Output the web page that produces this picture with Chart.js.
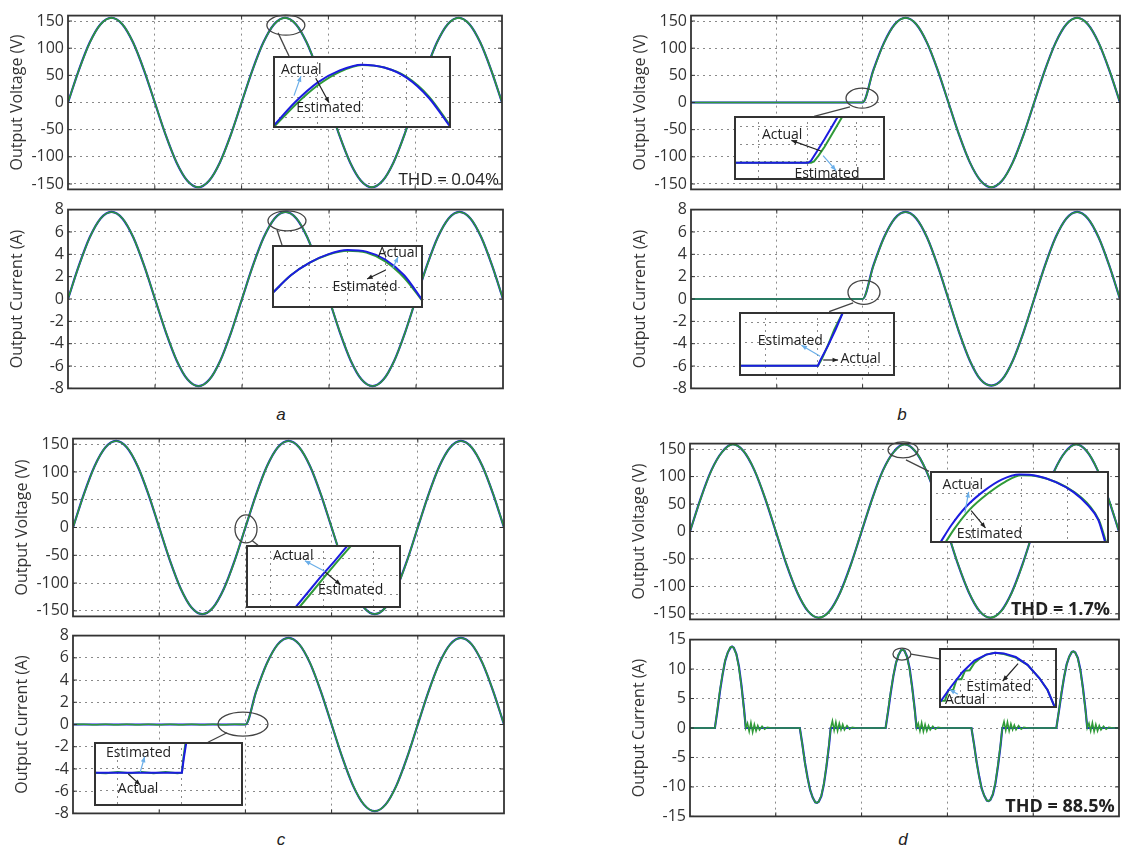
<!DOCTYPE html>
<html>
<head>
<meta charset="utf-8">
<script src="https://cdn.jsdelivr.net/npm/chart.js@4.4.0/dist/chart.umd.min.js"></script>
<style>
body { margin: 0; background: #fff; }
#fig { position: relative; width: 1122px; height: 849px; overflow: hidden; background: #fff; }
#fig canvas { position: absolute; }
.lbl { position: absolute; width: 40px; margin-left: -20px; text-align: center; font: italic 17px "Liberation Sans", Arial, sans-serif; line-height: 20px; color: #222; }
</style>
</head>
<body>
<div id="fig">
  <div class="lbl" style="left:281px;top:405px">a</div>
  <div class="lbl" style="left:902px;top:405px">b</div>
  <div class="lbl" style="left:281px;top:830px">c</div>
  <div class="lbl" style="left:903px;top:830px">d</div>
</div>
<script>
// time axis of the main plots, ms
var timeMs = [0, 1.25, 2.5, 3.75, 5, 6.25, 7.5, 8.75, 10, 11.25, 12.5, 13.75, 15, 16.25, 17.5, 18.75, 20,
  21.25, 22.5, 23.75, 25, 26.25, 27.5, 28.75, 30, 31.25, 32.5, 33.75, 35, 36.25, 37.5, 38.75, 40,
  41.25, 42.5, 43.75, 45, 46.25, 47.5, 48.75, 50];

var voltTicks = [-150, -100, -50, 0, 50, 100, 150];
var currTicks = [-8, -6, -4, -2, 0, 2, 4, 6, 8];
var currTicksD = [-15, -10, -5, 0, 5, 10, 15];

// a
var aVoltActual = [0, 59.7, 110.3, 144.1, 156, 144.1, 110.3, 59.7, 0, -59.7, -110.3, -144.1, -156, -144.1, -110.3, -59.7,
  0, 59.7, 110.3, 144.1, 156, 144.1, 110.3, 59.7, 0, -59.7, -110.3, -144.1, -156, -144.1, -110.3, -59.7,
  0, 59.7, 110.3, 144.1, 156, 144.1, 110.3, 59.7, 0];
var aVoltEstimated = [0, 59.2, 109.9, 143.8, 155.8, 144.3, 110.7, 60.2, 0.4, -59.3, -110.0, -143.9, -155.8, -144.2, -110.6, -60.1,
  0.3, 59.3, 110.0, 143.9, 155.8, 144.2, 110.6, 60.1, 0.3, -59.3, -110.0, -143.9, -155.8, -144.2, -110.6, -60.1,
  0.3, 59.3, 110.0, 143.9, 155.8, 144.2, 110.6, 60.1, 0.2];
var aCurrActual = [0, 2.98, 5.52, 7.21, 7.8, 7.21, 5.52, 2.98, 0, -2.98, -5.52, -7.21, -7.8, -7.21, -5.52, -2.98,
  0, 2.98, 5.52, 7.21, 7.8, 7.21, 5.52, 2.98, 0, -2.98, -5.52, -7.21, -7.8, -7.21, -5.52, -2.98,
  0, 2.98, 5.52, 7.21, 7.8, 7.21, 5.52, 2.98, 0];
var aCurrEstimated = [0, 2.96, 5.50, 7.20, 7.79, 7.22, 5.54, 3.00, 0.02, -2.96, -5.50, -7.20, -7.79, -7.22, -5.54, -3.00,
  0.02, 2.96, 5.50, 7.20, 7.79, 7.22, 5.54, 3.00, 0.02, -2.96, -5.50, -7.20, -7.79, -7.22, -5.54, -3.00,
  0.02, 2.96, 5.50, 7.20, 7.79, 7.22, 5.54, 3.00, 0.01];

// b
var bVoltActual = [0, 0, 0, 0, 0, 0, 0, 0, 0, 0, 0, 0, 0, 0, 0, 0, 0,
  59.7, 110.3, 144.1, 156, 144.1, 110.3, 59.7, 0, -59.7, -110.3, -144.1, -156, -144.1, -110.3, -59.7,
  0, 59.7, 110.3, 144.1, 156, 144.1, 110.3, 59.7, 0];
var bVoltEstimated = [0, 0, 0, 0, 0, 0, 0, 0, 0, 0, 0, 0, 0, 0, 0, 0, 0,
  58.6, 109.6, 143.8, 155.8, 144.3, 110.7, 60.2, 0.3, -59.3, -110.0, -143.9, -155.8, -144.2, -110.6, -60.1,
  0.3, 59.3, 110.0, 143.9, 155.8, 144.2, 110.6, 60.1, 0.2];
var bCurrActual = [0, 0, 0, 0, 0, 0, 0, 0, 0, 0, 0, 0, 0, 0, 0, 0, 0,
  2.98, 5.52, 7.21, 7.8, 7.21, 5.52, 2.98, 0, -2.98, -5.52, -7.21, -7.75, -7.21, -5.52, -2.98,
  0, 2.98, 5.52, 7.21, 7.8, 7.21, 5.52, 2.98, 0];
var bCurrEstimated = [0, 0, 0, 0, 0, 0, 0, 0, 0, 0, 0, 0, 0, 0, 0, 0, 0,
  2.94, 5.49, 7.20, 7.79, 7.22, 5.54, 3.00, 0.02, -2.96, -5.50, -7.20, -7.74, -7.22, -5.54, -3.00,
  0.02, 2.96, 5.50, 7.20, 7.79, 7.22, 5.54, 3.00, 0.01];

// c
var cVoltActual = [0, 59.7, 110.3, 144.1, 156, 144.1, 110.3, 59.7, 0, -59.7, -110.3, -144.1, -156, -144.1, -110.3, -59.7,
  0, 59.7, 110.3, 144.1, 156, 144.1, 110.3, 59.7, 0, -59.7, -110.3, -144.1, -156, -144.1, -110.3, -59.7,
  0, 59.7, 110.3, 144.1, 156, 144.1, 110.3, 59.7, 0];
var cVoltEstimated = [0, 59.0, 109.8, 143.8, 155.8, 144.3, 110.8, 60.3, 0.5, -59.2, -109.9, -143.9, -155.8, -144.2, -110.7, -60.2,
  0.5, 59.1, 109.9, 143.9, 155.8, 144.2, 110.7, 60.2, 0.4, -59.2, -109.9, -143.9, -155.8, -144.2, -110.7, -60.2,
  0.3, 59.2, 110.0, 143.9, 155.8, 144.2, 110.6, 60.1, 0.2];
var cCurrActual = [0, 0, 0, 0, 0, 0, 0, 0, 0, 0, 0, 0, 0, 0, 0, 0, 0,
  2.98, 5.52, 7.21, 7.8, 7.21, 5.52, 2.98, 0, -2.98, -5.52, -7.21, -7.8, -7.21, -5.52, -2.98,
  0, 2.98, 5.52, 7.21, 7.8, 7.21, 5.52, 2.98, 0];
var cCurrEstimated = [0, 0.02, -0.02, 0.02, -0.02, 0.02, -0.02, 0.02, -0.02, 0.02, -0.02, 0.02, -0.02, 0.02, -0.02, 0.02, 0,
  2.95, 5.50, 7.20, 7.79, 7.22, 5.54, 3.00, 0.02, -2.96, -5.50, -7.20, -7.79, -7.22, -5.54, -3.00,
  0.02, 2.96, 5.50, 7.20, 7.79, 7.22, 5.54, 3.00, 0.01];

// d
var dVoltActual = [0, 60.5, 111.7, 145, 159, 146, 111.7, 60.5, 0, -60.5, -111, -145, -157, -145, -111, -60,
  0, 60.5, 111.7, 145, 159, 146, 111.7, 60.5, 0, -60.5, -111, -145, -157, -145, -111, -60,
  0, 60.5, 111.7, 145, 159, 146, 111.7, 60.5, 0];
var dVoltEstimated = [0, 59.8, 111, 144.5, 158.5, 146.3, 112.3, 61.2, 0.8, -59.8, -110.4, -144.6, -156.8, -145.4, -111.6, -60.8,
  0.7, 59.8, 111, 144.5, 158.4, 146.3, 112.3, 61.2, 0.8, -59.8, -110.4, -144.6, -156.8, -145.4, -111.6, -60.8,
  0.7, 59.8, 111, 144.5, 158.4, 146.3, 112.3, 61.2, 0.5];
var dCurrTime = [0, 2.9, 3.2, 3.5, 3.8, 4.1, 4.4, 4.7, 4.9, 5.1, 5.4, 5.7, 6.0, 6.3, 6.5,
  6.7, 6.9, 7.1, 7.3, 7.5, 7.7, 7.9, 8.1, 8.4, 8.7, 9.0, 9.5,
  12.8, 13.1, 13.4, 13.7, 14.0, 14.3, 14.6, 14.8, 15.0, 15.3, 15.6, 15.9, 16.2, 16.4,
  16.6, 16.8, 17.0, 17.2, 17.4, 17.6, 17.8, 18.0, 18.3, 18.6, 18.9, 19.4,
  22.8, 23.1, 23.4, 23.7, 24.0, 24.3, 24.6, 24.8, 25.0, 25.3, 25.6, 25.9, 26.2, 26.4,
  26.6, 26.8, 27.0, 27.2, 27.4, 27.6, 27.8, 28.0, 28.3, 28.6, 28.9, 29.4,
  32.8, 33.1, 33.4, 33.7, 34.0, 34.3, 34.6, 34.8, 35.0, 35.3, 35.6, 35.9, 36.2, 36.4,
  36.6, 36.8, 37.0, 37.2, 37.4, 37.6, 37.8, 38.0, 38.3, 38.6, 38.9, 39.4,
  42.7, 43.0, 43.3, 43.6, 43.9, 44.2, 44.5, 44.7, 44.9, 45.2, 45.5, 45.8, 46.1, 46.3,
  46.5, 46.7, 46.9, 47.1, 47.3, 47.5, 47.7, 47.9, 48.2, 48.5, 48.8, 49.3, 50];
var dCurrActual = [0, 0, 3.0, 6.3, 9.1, 11.4, 12.8, 13.6, 13.8, 13.6, 12.6, 10.5, 7.2, 3.2, 0,
  0, 0, 0, 0, 0, 0, 0, 0, 0, 0, 0, 0,
  0, -2.8, -5.9, -8.4, -10.5, -11.8, -12.6, -12.7, -12.5, -11.6, -9.6, -6.6, -3.0, 0,
  0, 0, 0, 0, 0, 0, 0, 0, 0, 0, 0, 0,
  0, 2.9, 6.0, 8.8, 11.0, 12.4, 13.2, 13.3, 13.1, 12.1, 10.1, 6.9, 3.1, 0,
  0, 0, 0, 0, 0, 0, 0, 0, 0, 0, 0, 0,
  0, -2.7, -5.7, -8.2, -10.3, -11.5, -12.3, -12.4, -12.2, -11.3, -9.4, -6.4, -2.9, 0,
  0, 0, 0, 0, 0, 0, 0, 0, 0, 0, 0, 0,
  0, 2.9, 5.9, 8.6, 10.8, 12.1, 12.9, 13.0, 12.8, 11.9, 9.9, 6.8, 3.1, 0,
  0, 0, 0, 0, 0, 0, 0, 0, 0, 0, 0, 0, 0];
var dCurrEstimated = [0, 0, 3.2, 6.5, 9.2, 11.5, 12.8, 13.7, 13.8, 13.6, 12.5, 10.3, 7.0, 3.0, 0,
  0.8, -0.6, 0.9, -0.7, 0.6, -0.5, 0.4, -0.3, 0.3, -0.2, 0.1, 0,
  0, -2.9, -6.0, -8.5, -10.5, -11.8, -12.6, -12.7, -12.5, -11.5, -9.5, -6.4, -2.8, 0,
  1.2, -0.4, 1.0, -0.5, 0.8, -0.3, 0.6, -0.3, 0.4, -0.2, 0.1, 0,
  0, 3.1, 6.2, 8.9, 11.0, 12.4, 13.2, 13.3, 13.1, 12.0, 9.9, 6.7, 2.9, 0,
  0.8, -0.5, 0.9, -0.6, 0.6, -0.5, 0.4, -0.3, 0.3, -0.2, 0.1, 0,
  0, -2.8, -5.8, -8.3, -10.3, -11.5, -12.3, -12.4, -12.2, -11.2, -9.2, -6.2, -2.7, 0,
  1.1, -0.4, 1.0, -0.5, 0.7, -0.3, 0.5, -0.3, 0.4, -0.2, 0.1, 0,
  0, 3.0, 6.1, 8.7, 10.8, 12.1, 12.9, 13.0, 12.8, 11.8, 9.7, 6.6, 2.9, 0,
  0.8, -0.5, 0.9, -0.6, 0.6, -0.5, 0.4, -0.3, 0.3, -0.2, 0.1, 0, 0];

// zoomed views (percent of the inset box)
var aVoltZoomX = [0, 12.5, 25, 37.5, 50, 62.5, 75, 87.5, 100];
var aVoltZoomActual = [2, 36, 63, 80, 88, 84, 70, 42, 0];
var aVoltZoomEstimated = [0, 32, 59, 78, 87.5, 84, 71, 44, 2];
var aCurrZoomX = [0, 12.5, 25, 37.5, 50, 62.5, 75, 87.5, 100];
var aCurrZoomActual = [23, 52, 72, 85.5, 92, 89.5, 77, 52, 11];
var aCurrZoomEstimated = [23, 52, 72, 85, 91, 88, 74, 48, 10];
var bVoltZoomActX = [0, 49, 51, 55, 60, 65, 69];
var bVoltZoomActual = [27, 27, 30, 45, 64, 84, 100];
var bVoltZoomEstX = [0, 51, 53, 56, 60, 64, 68, 72];
var bVoltZoomEstimated = [27, 27, 29, 38, 52, 68, 84, 100];
var bCurrZoomActX = [0, 50.6, 52, 57, 62, 66.7];
var bCurrZoomActual = [16, 16, 24, 47, 73, 100];
var bCurrZoomEstX = [0, 50.6, 53, 57, 61, 66.7];
var bCurrZoomEstimated = [16, 16, 26, 48, 72, 100];
var cVoltZoomActX = [31.6, 40, 48, 57, 65.8];
var cVoltZoomActual = [0, 25, 49, 74, 100];
var cVoltZoomEstX = [34, 42.5, 50.5, 59, 68.2];
var cVoltZoomEstimated = [0, 25, 49, 74, 100];
var cCurrZoomActX = [0, 59, 60.3, 62];
var cCurrZoomActual = [52, 52, 75, 100];
var cCurrZoomEstX = [0, 8, 16, 24, 32, 40, 48, 56, 59, 60, 61.5];
var cCurrZoomEstimated = [52, 51, 53, 51, 53, 51, 53, 51, 52, 75, 100];
var dVoltZoomActX = [5.6, 12, 20, 30, 40, 50, 60, 70, 80, 88, 94, 98];
var dVoltZoomActual = [0, 25, 50, 72, 88, 95, 93, 85, 71, 53, 32, 0];
var dVoltZoomEstX = [8.4, 14, 22, 32, 42, 51, 61, 71, 81, 89, 94.5, 98.5];
var dVoltZoomEstimated = [0, 21, 46, 68, 85, 94, 92, 84, 70, 52, 31, 0];
var dCurrZoomActX = [1, 10, 20, 30, 40, 47.5, 55, 65, 75, 85, 92, 98];
var dCurrZoomActual = [10, 35, 60, 79, 89, 92, 91, 85, 72, 50, 30, 2];
var dCurrZoomEstX = [1, 5, 8, 12, 15, 19, 22, 26, 30, 35, 40, 47.5, 55, 65, 75, 85, 92, 98];
var dCurrZoomEstimated = [12, 12, 30, 30, 48, 48, 62, 63, 75, 83, 89, 92, 90, 84, 72, 50, 30, 2];

var BLUE = '#1c1ce0', GREEN = '#2f9a38', GRID = '#8a8a8a', FRAME = '#333', LBLUE = '#6aaee8', DARK = '#222';
var FONT = '"Open Sans", "Liberation Sans", sans-serif';
var AXIS_W = 68;

var fig = document.getElementById('fig');

function addCanvas(left, top, w, h, z) {
  var c = document.createElement('canvas');
  c.width = w; c.height = h;
  c.style.left = left + 'px'; c.style.top = top + 'px';
  c.style.width = w + 'px'; c.style.height = h + 'px';
  c.style.zIndex = z;
  fig.appendChild(c);
  return c;
}

function pts(xs, ys) {
  return xs.map(function (x, i) { return { x: x, y: ys[i] }; });
}

function setTicks(arr) {
  return function (s) { s.ticks = arr.map(function (v) { return { value: v }; }); };
}

function arrow(ctx, x1, y1, x2, y2, color) {
  var ang = Math.atan2(y2 - y1, x2 - x1);
  ctx.strokeStyle = color; ctx.fillStyle = color; ctx.lineWidth = 1.2;
  ctx.beginPath(); ctx.moveTo(x1, y1); ctx.lineTo(x2, y2); ctx.stroke();
  ctx.beginPath(); ctx.moveTo(x2, y2);
  ctx.lineTo(x2 - 6 * Math.cos(ang - 0.4), y2 - 6 * Math.sin(ang - 0.4));
  ctx.lineTo(x2 - 6 * Math.cos(ang + 0.4), y2 - 6 * Math.sin(ang + 0.4));
  ctx.closePath(); ctx.fill();
}

// frame, small inner ticks, zoom ellipse and THD note on main plots
var mainAnn = {
  id: 'mainAnn',
  afterDraw: function (chart, args, o) {
    var ctx = chart.ctx, a = chart.chartArea, xs = chart.scales.x, ys = chart.scales.y;
    ctx.save();
    ctx.strokeStyle = FRAME; ctx.lineWidth = 1;
    ctx.beginPath();
    xs.ticks.forEach(function (t) {
      var x = xs.getPixelForValue(t.value);
      ctx.moveTo(x, a.top); ctx.lineTo(x, a.top + 4);
      ctx.moveTo(x, a.bottom); ctx.lineTo(x, a.bottom - 4);
    });
    ys.ticks.forEach(function (t) {
      var y = ys.getPixelForValue(t.value);
      ctx.moveTo(a.left, y); ctx.lineTo(a.left + 4, y);
      ctx.moveTo(a.right, y); ctx.lineTo(a.right - 4, y);
    });
    ctx.stroke();
    ctx.lineWidth = 1.8;
    ctx.strokeRect(a.left, a.top, a.right - a.left, a.bottom - a.top);
    if (o.ellipse) {
      ctx.lineWidth = 1.3; ctx.strokeStyle = '#444';
      ctx.beginPath();
      ctx.ellipse(xs.getPixelForValue(o.ellipse[0]), ys.getPixelForValue(o.ellipse[1]), o.ellipse[2], o.ellipse[3], 0, 0, Math.PI * 2);
      ctx.stroke();
      ctx.beginPath();
      ctx.moveTo(xs.getPixelForValue(o.link[0]), ys.getPixelForValue(o.link[1]));
      ctx.lineTo(xs.getPixelForValue(o.link[2]), ys.getPixelForValue(o.link[3]));
      ctx.stroke();
    }
    if (o.thd) {
      ctx.fillStyle = '#222';
      ctx.font = o.thd[3] ? 'bold 18px ' + FONT : '17px ' + FONT;
      ctx.textAlign = 'right'; ctx.textBaseline = 'middle';
      ctx.fillText(o.thd[0], xs.getPixelForValue(o.thd[1]), ys.getPixelForValue(o.thd[2]));
    }
    ctx.restore();
  }
};

var insetAnn = {
  id: 'insetAnn',
  beforeDraw: function (chart) {
    var ctx = chart.ctx;
    ctx.save(); ctx.fillStyle = '#fff'; ctx.fillRect(0, 0, chart.width, chart.height); ctx.restore();
  },
  afterDraw: function (chart, args, o) {
    var ctx = chart.ctx, xs = chart.scales.x, ys = chart.scales.y;
    ctx.save();
    ctx.fillStyle = DARK;
    ctx.font = '14px ' + FONT; ctx.textAlign = 'left'; ctx.textBaseline = 'middle';
    (o.labels || []).forEach(function (l) {
      ctx.fillText(l[0], xs.getPixelForValue(l[1]), ys.getPixelForValue(l[2]));
    });
    (o.arrows || []).forEach(function (r) {
      arrow(ctx, xs.getPixelForValue(r[0]), ys.getPixelForValue(r[1]), xs.getPixelForValue(r[2]), ys.getPixelForValue(r[3]), r[4]);
    });
    ctx.strokeStyle = FRAME; ctx.lineWidth = 2;
    ctx.strokeRect(1, 1, chart.width - 2, chart.height - 2);
    ctx.restore();
  }
};

var plots = [
  { rect: [68, 12, 502, 193], yMin: -160, yMax: 160, yTicks: voltTicks, title: 'Output Voltage (V)',
    t: timeMs, actual: aVoltActual, estimated: aVoltEstimated, smooth: true,
    ann: { ellipse: [25.1, 142.3, 19, 10], link: [24.2, 128.2, 25.46, 85.7], thd: ['THD = 0.04%', 49.65, -142.3, false] },
    inset: { box: [23.6, 44.1, 85.7, -46.9], gx: [25, 50, 75], gy: [15, 43, 72], smooth: true,
      act: [aVoltZoomX, aVoltZoomActual], est: [aVoltZoomX, aVoltZoomEstimated],
      labels: [['Actual', 4.5, 81], ['Estimated', 13, 28]],
      arrows: [[11.8, 45, 15.7, 72, LBLUE], [24, 69, 31.5, 35, DARK]] } },
  { rect: [68, 206, 503, 392], yMin: -8, yMax: 8, yTicks: currTicks, title: 'Output Current (A)',
    t: timeMs, actual: aCurrActual, estimated: aCurrEstimated, smooth: true,
    ann: { ellipse: [25.17, 7.0, 19, 10], link: [24.02, 6.19, 24.6, 4.82] },
    inset: { box: [23.45, 40.8, 4.82, -0.77], gx: [25, 50, 75], gy: [33, 67], smooth: true,
      act: [aCurrZoomX, aCurrZoomActual], est: [aCurrZoomX, aCurrZoomEstimated],
      labels: [['Actual', 70, 88], ['Estimated', 40, 34]],
      arrows: [[80, 63, 83.5, 81, LBLUE], [75, 60, 63, 46, DARK]] } },
  { rect: [691, 12, 1120, 193], yMin: -160, yMax: 160, yTicks: voltTicks, title: 'Output Voltage (V)',
    t: timeMs, actual: bVoltActual, estimated: bVoltEstimated, smooth: true,
    ann: { ellipse: [19.93, 8.0, 16, 10], link: [18.53, -8.0, 14.34, -25.6] },
    inset: { box: [5.01, 22.6, -25.6, -142.3], gx: [16, 49, 81], gy: [29, 56, 83], smooth: false,
      act: [bVoltZoomActX, bVoltZoomActual], est: [bVoltZoomEstX, bVoltZoomEstimated],
      labels: [['Actual', 18.5, 70], ['Estimated', 40, 9]],
      arrows: [[58, 45, 38, 62, DARK], [59, 38, 67.5, 15, LBLUE]] } },
  { rect: [691, 206, 1120, 392], yMin: -8, yMax: 8, yTicks: currTicks, title: 'Output Current (A)',
    t: timeMs, actual: bCurrActual, estimated: bCurrEstimated, smooth: true,
    ann: { ellipse: [20.16, 0.6, 16, 12], link: [18.9, -0.34, 16.1, -1.12] },
    inset: { box: [5.6, 23.8, -1.12, -6.88], gx: [17, 50, 83], gy: [16, 52, 84], smooth: false,
      act: [bCurrZoomActX, bCurrZoomActual], est: [bCurrZoomEstX, bCurrZoomEstimated],
      labels: [['Estimated', 12, 55], ['Actual', 65, 27]],
      arrows: [[52, 31, 40, 48, LBLUE], [54, 25, 63.5, 25, DARK]] } },
  { rect: [73, 435, 504, 620], yMin: -160, yMax: 160, yTicks: voltTicks, title: 'Output Voltage (V)',
    t: timeMs, actual: cVoltActual, estimated: cVoltEstimated, smooth: true,
    ann: { ellipse: [20.07, -2.6, 11, 14], link: [20.77, -23.4, 21.46, -32.0] },
    inset: { box: [20.07, 38.05, -32.0, -144.5], gx: [15.5, 50, 82], gy: [22, 51, 78], smooth: false,
      act: [cVoltZoomActX, cVoltZoomActual], est: [cVoltZoomEstX, cVoltZoomEstimated],
      labels: [['Actual', 17.4, 83], ['Estimated', 46.5, 29]],
      arrows: [[51, 58, 38, 75, LBLUE], [51, 57, 61, 37, DARK]] } },
  { rect: [73, 632, 504, 817], yMin: -8, yMax: 8, yTicks: currTicks, title: 'Output Current (A)',
    t: timeMs, actual: cCurrActual, estimated: cCurrEstimated, smooth: true,
    ann: { ellipse: [19.72, 0.04, 25, 12], link: [17.87, -0.74, 15.66, -1.6] },
    inset: { box: [2.44, 19.72, -1.6, -7.31], gx: [16, 59], gy: [24, 59], smooth: false,
      act: [cCurrZoomActX, cCurrZoomActual], est: [cCurrZoomEstX, cCurrZoomEstimated],
      labels: [['Estimated', 8, 83], ['Actual', 16, 26]],
      arrows: [[31, 53, 34, 77, LBLUE], [23, 50, 31, 33, DARK]] } },
  { rect: [690, 440, 1119, 623], yMin: -160, yMax: 160, yTicks: voltTicks, title: 'Output Voltage (V)',
    t: timeMs, actual: dVoltActual, estimated: dVoltEstimated, smooth: true,
    ann: { ellipse: [24.83, 148.5, 15, 8], link: [25.17, 130.3, 27.86, 109.3], thd: ['THD = 1.7%', 48.95, -142.4, true] },
    inset: { box: [27.97, 48.83, 111.0, -21.8], gx: [23, 51, 77], gy: [33, 68.5], smooth: true,
      act: [dVoltZoomActX, dVoltZoomActual], est: [dVoltZoomEstX, dVoltZoomEstimated],
      labels: [['Actual', 7, 80], ['Estimated', 15, 12]],
      arrows: [[19.5, 42, 21.6, 71, LBLUE], [23, 45, 31, 21, DARK]] } },
  { rect: [690, 636, 1119, 820], yMin: -15, yMax: 15, yTicks: currTicksD, title: 'Output Current (A)',
    t: dCurrTime, actual: dCurrActual, estimated: dCurrEstimated, smooth: false,
    ann: { ellipse: [24.7, 12.55, 9, 6], link: [25.76, 12.55, 29.02, 11.74], thd: ['THD = 88.5%', 49.5, -13.37, true] },
    inset: { box: [29.02, 42.77, 13.53, 3.42], gx: [18, 48, 79], gy: [18, 47, 79], smooth: false,
      act: [dCurrZoomActX, dCurrZoomActual], est: [dCurrZoomEstX, dCurrZoomEstimated],
      labels: [['Estimated', 23, 35], ['Actual', 5, 13]],
      arrows: [[67, 74, 54, 45, DARK], [16, 23, 9, 31, LBLUE]] } }
];

function gridScale(extra) {
  var s = {
    type: 'linear',
    ticks: { display: false },
    grid: { color: GRID, lineWidth: 1, drawTicks: false },
    border: { display: false, dash: [2, 4] }
  };
  for (var k in extra) s[k] = extra[k];
  return s;
}

plots.forEach(function (p) {
  var L = p.rect[0], T = p.rect[1];
  var cLeft = L - AXIS_W, cTop = T - 10;
  var w = p.rect[2] - L + AXIS_W + 4, h = p.rect[3] - T + 20;
  var cv = addCanvas(cLeft, cTop, w, h, 1);
  var yScale = gridScale({
    min: p.yMin, max: p.yMax,
    afterBuildTicks: setTicks(p.yTicks),
    afterFit: function (s) { s.width = AXIS_W; },
    title: { display: true, text: p.title, color: '#333', font: { family: FONT, size: 16 }, padding: { top: 8, bottom: 0 } }
  });
  yScale.ticks = { display: true, color: '#333', font: { family: FONT, size: 16 }, padding: 4 };
  var chart = new Chart(cv, {
    type: 'line',
    data: { datasets: [
      { label: 'Actual', data: pts(p.t, p.actual), borderColor: BLUE, borderWidth: 2.2, pointRadius: 0,
        cubicInterpolationMode: p.smooth ? 'monotone' : 'default', tension: 0, order: 2 },
      { label: 'Estimated', data: pts(p.t, p.estimated), borderColor: GREEN, borderWidth: 1.6, pointRadius: 0,
        cubicInterpolationMode: p.smooth ? 'monotone' : 'default', tension: 0, order: 1 }
    ] },
    options: {
      responsive: false, animation: false, devicePixelRatio: 1,
      layout: { padding: { top: 10, bottom: 10, left: 0, right: 4 } },
      plugins: { legend: { display: false }, tooltip: { enabled: false }, mainAnn: p.ann },
      scales: {
        x: gridScale({ min: 0, max: 50, afterBuildTicks: setTicks([10, 20, 30, 40]), afterFit: function (s) { s.height = 0; } }),
        y: yScale
      }
    },
    plugins: [mainAnn]
  });

  // zoomed inset, placed over the main plot through its own scales
  var ins = p.inset;
  var xs = chart.scales.x, ys = chart.scales.y;
  var il = Math.round(cLeft + xs.getPixelForValue(ins.box[0]));
  var ir = Math.round(cLeft + xs.getPixelForValue(ins.box[1]));
  var it = Math.round(cTop + ys.getPixelForValue(ins.box[2]));
  var ib = Math.round(cTop + ys.getPixelForValue(ins.box[3]));
  var icv = addCanvas(il, it, ir - il, ib - it, 3);
  new Chart(icv, {
    type: 'line',
    data: { datasets: [
      { label: 'Actual', data: pts(ins.act[0], ins.act[1]), borderColor: BLUE, borderWidth: 2, pointRadius: 0,
        cubicInterpolationMode: ins.smooth ? 'monotone' : 'default', tension: 0, order: 1 },
      { label: 'Estimated', data: pts(ins.est[0], ins.est[1]), borderColor: GREEN, borderWidth: 2, pointRadius: 0,
        cubicInterpolationMode: ins.smooth ? 'monotone' : 'default', tension: 0, order: 2 }
    ] },
    options: {
      responsive: false, animation: false, devicePixelRatio: 1,
      layout: { padding: 0 },
      plugins: { legend: { display: false }, tooltip: { enabled: false }, insetAnn: ins },
      scales: {
        x: gridScale({ min: 0, max: 100, afterBuildTicks: setTicks(ins.gx), afterFit: function (s) { s.height = 0; } }),
        y: gridScale({ min: 0, max: 100, afterBuildTicks: setTicks(ins.gy), afterFit: function (s) { s.width = 0; } })
      }
    },
    plugins: [insetAnn]
  });
});
</script>
</body>
</html>
